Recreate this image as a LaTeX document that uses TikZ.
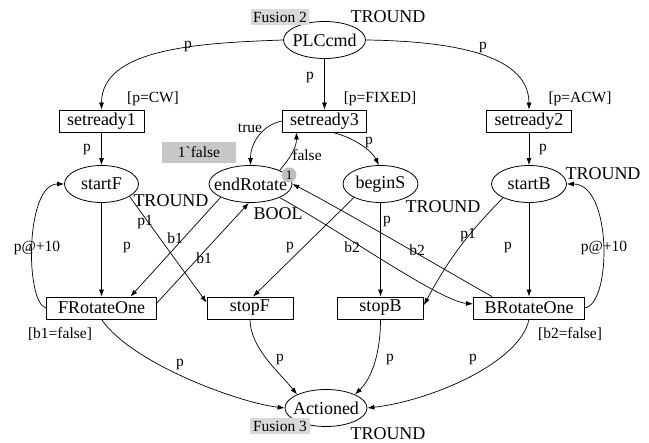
\documentclass[tikz,border=0pt]{standalone}
\usepackage{fontspec}
\setmainfont{Liberation Serif}
\usetikzlibrary{shapes.geometric,arrows.meta}
\newcommand\zw[1]{\makebox[0pt]{#1}}
\tikzset{
  place/.style={ellipse, draw, line width=0.8pt, minimum width=#1, minimum height=37pt, inner sep=0pt, font=\fontsize{18}{20}\selectfont},
  trans/.style={rectangle, draw, line width=0.8pt, minimum width=#1, minimum height=22pt, inner sep=0pt, font=\fontsize{18}{20}\selectfont},
  lbl/.style={font=\fontsize{15.5}{17}\selectfont, inner sep=0pt},
  big/.style={font=\fontsize{18}{20}\selectfont, inner sep=0pt},
  arc/.style={-{Latex[length=7pt,width=5pt]}, line width=0.7pt},
  tag/.style={fill=black!15, inner sep=0pt, font=\fontsize{15.5}{17}\selectfont}
}
\begin{document}
\begin{tikzpicture}[x=1pt,y=1pt]
\useasboundingbox (0,0) rectangle (649,443);
% places and transitions
\node[place=82pt] (PLC) at (324.5,403) {\zw{PLCcmd}};
\node[trans=85pt] (sr1) at (101.5,322) {setready1};
\node[trans=84pt] (sr3) at (324.5,322) {setready3};
\node[trans=85pt] (sr2) at (529,322) {setready2};
\node[place=74pt] (startF) at (101.5,259) {\zw{startF}};
\node[place=83pt] (endR) at (250.5,259) {\zw{endRotate}};
\node[place=75pt] (beginS) at (380.5,259) {\zw{beginS}};
\node[place=75pt] (startB) at (529,259) {\zw{startB}};
\node[trans=110pt] (FRot) at (101.5,135) {FRotateOne};
\node[trans=86pt] (stopF) at (250,135) {stopF};
\node[trans=86pt] (stopB) at (380.5,135) {stopB};
\node[trans=111pt] (BRot) at (529,135) {BRotateOne};
\node[place=82pt] (Act) at (326,35) {\zw{Actioned}};
% colour sets
\node[big] (c1) at (388,426) {TROUND};
\node[big] (c2) at (171,242) {TROUND};
\node[big] (c3) at (278,229) {BOOL};
\node[big] (c4) at (443,236) {TROUND};
\node[big] (c5) at (603,269) {TROUND};
\node[big] (c6) at (388,9) {TROUND};
% guards
\node[lbl] (g1) at (153,344) {[p=CW]};
\node[lbl] (g2) at (380,344) {[p=FIXED]};
\node[lbl] (g3) at (580,344) {[p=ACW]};
\node[lbl] (g4) at (60,109) {[b1=false]};
\node[lbl] (g5) at (570,109) {[b2=false]};
% initial marking
\node[tag, fill=black!22, minimum width=74pt, minimum height=21pt] (init) at (199,290.5) {1\textasciigrave false};
% arcs
\draw[arc] (PLC.west) .. controls (200,400) and (101.5,395) .. (sr1.north);
\draw[arc] (PLC) -- (sr3);
\draw[arc] (PLC.east) .. controls (440,402) and (529,392) .. (sr2.north);
\draw[arc] (sr1) -- (startF);
\draw[arc] (sr2) -- (startB);
\draw[arc] (sr3.west) .. controls (262,318) and (250.5,300) .. (endR.north);
\draw[arc] (endR.25) .. controls (290,285) and (296.5,295) .. ([xshift=-28pt]sr3.south);
\draw[arc] ([xshift=8pt]sr3.south) .. controls (355,305) and (372,292) .. (beginS.95);
\draw[arc] (startF) -- (FRot);
\draw[arc] (FRot.west) .. controls (25,140) and (25,259) .. (startF.west);
\draw[arc] (BRot.east) .. controls (612,140) and (612,259) .. (startB.east);
\draw[arc] (startF.-24) -- ([yshift=-6pt]stopF.north west);
\draw[arc] (endR.-156) -- ([xshift=29pt]FRot.north);
\draw[arc] ([yshift=5pt]FRot.east) -- (endR.-95);
\draw[arc] (beginS.-153) -- ([xshift=3pt]stopF.north);
\draw[arc] (beginS) -- (stopB);
\draw[arc] (endR.-25) .. controls (350,206) and (440,142) .. ([yshift=4pt]BRot.west);
\draw[arc] ([xshift=-37pt]BRot.north) .. controls (447,172) and (332,239) .. (endR.east);
\draw[arc] (startB.-152) to[bend right=8] ([yshift=3pt]stopB.east);
\draw[arc] (startB) -- (BRot);
\draw[arc] (stopF.south) .. controls (250,95) and (280,70) .. (Act.155);
\draw[arc] (FRot.south) .. controls (132,79) and (240,40) .. (Act.west);
\draw[arc] (stopB.south) .. controls (380.5,90) and (372,65) .. (Act.25);
\draw[arc] (BRot.south) .. controls (520,80) and (430,42) .. (Act.east);
% fusion tags and token, drawn over the places
\node[tag, minimum width=58pt, minimum height=16pt] (fus2) at (280,426) {Fusion 2};
\node[tag, minimum width=60pt, minimum height=16pt] (fus3) at (280,17) {Fusion 3};
\node[circle, fill=black!25, minimum size=15pt, inner sep=0pt, font=\fontsize{13}{14}\selectfont] (tok) at (289,268) {1};
% arc labels
\node[lbl] (l1) at (188,396) {p};
\node[lbl] (l2) at (310,365) {p};
\node[lbl] (l3) at (483,395) {p};
\node[lbl] (l4) at (87,293) {p};
\node[lbl] (l5) at (543,293) {p};
\node[lbl] (l6) at (369,300) {p};
\node[lbl] (l7) at (250,315) {true};
\node[lbl] (l8) at (307,288) {false};
\node[lbl] (l9) at (37,195) {p@+10};
\node[lbl] (l10) at (604,195) {p@+10};
\node[lbl] (l11) at (127,195) {p};
\node[lbl] (l12) at (145,221) {p1};
\node[lbl] (l13) at (175,205) {b1};
\node[lbl] (l14) at (204,185) {b1};
\node[lbl] (l15) at (290,195) {p};
\node[lbl] (l16) at (387,221) {p};
\node[lbl] (l17) at (352,196) {b2};
\node[lbl] (l18) at (417,193) {b2};
\node[lbl] (l19) at (468,208) {p1};
\node[lbl] (l20) at (508,195) {p};
\node[lbl] (l21) at (180,78) {p};
\node[lbl] (l22) at (280,83) {p};
\node[lbl] (l23) at (390,83) {p};
\node[lbl] (l24) at (473,83) {p};
\end{tikzpicture}
\end{document}
